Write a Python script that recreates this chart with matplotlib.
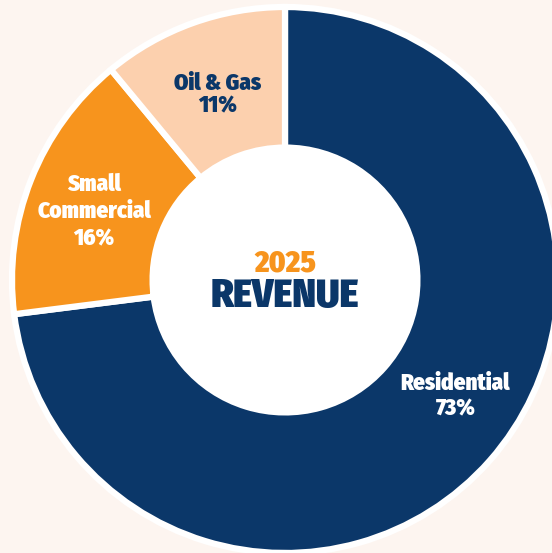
import matplotlib.pyplot as plt
import numpy as np

# Data
labels = ['Residential', 'Small\nCommercial', 'Oil & Gas']
shares = [73, 16, 11]
colors = ['#0b3769', '#f7941d', '#fcd0ae']
text_colors = ['white', 'white', '#0b3769']

# label placement (radius as fraction of outer radius, angle in degrees) and line spacing
label_pos = [(0.755, -34.2), (0.743, 160.3), (0.722, 109.9)]
label_spacing = [1.15, 1.25, 1.0]

navy = '#0b3769'
orange = '#f7941d'
bg = '#fdf5f0'

W, H = 552, 553
cx, cy, R = 285, 273, 273  # centre (px from left / bottom) and outer radius

fig = plt.figure(figsize=(W / 100, H / 100), dpi=100)
fig.patch.set_facecolor(bg)
ax = fig.add_axes([0, 0, 1, 1])
ax.set_facecolor(bg)

wedges, _ = ax.pie(shares, colors=colors, startangle=90, counterclock=False,
                   radius=1.0, wedgeprops=dict(width=0.515, edgecolor='white', linewidth=4.5))

# white centre
ax.add_patch(plt.Circle((0, 0), 0.485, color='white', zorder=3))

font = ['Fira Sans Condensed', 'Fira Sans Extra Condensed', 'Roboto Condensed', 'DejaVu Sans']
for lab, pct, tc, (r, a), ls in zip(labels, shares, text_colors, label_pos, label_spacing):
    x = r * np.cos(np.radians(a))
    y = r * np.sin(np.radians(a))
    ax.text(x, y, f'{lab}\n{pct}%', ha='center', va='center', color=tc,
            fontsize=16.5, fontweight=900, family=font, linespacing=ls, zorder=4)

ax.text(0.0, 0.06, '2025', ha='center', va='center', color=orange,
        fontsize=22, fontweight=900, family=font, zorder=5)
ax.text(0.0, -0.063, 'REVENUE', ha='center', va='center', color=navy,
        fontsize=29, fontweight=900, family=font, zorder=5)

ax.set_xlim(-cx / R, (W - cx) / R)
ax.set_ylim(-cy / R, (H - cy) / R)
ax.set_aspect('equal')
ax.axis('off')

fig.savefig('out.png', dpi=100, facecolor=bg)
